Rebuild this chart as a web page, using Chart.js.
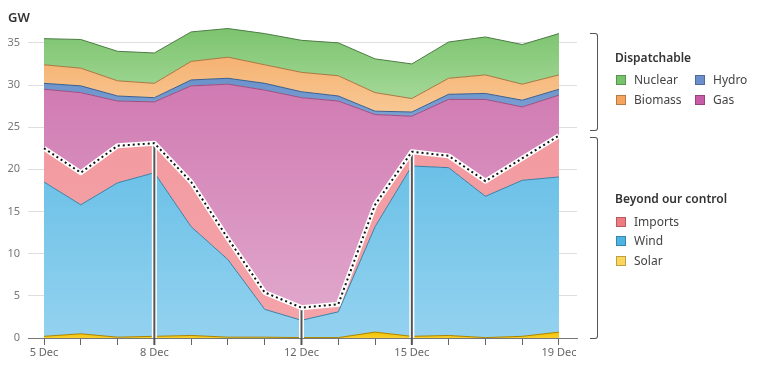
<!DOCTYPE html>
<html>
<head>
<meta charset="utf-8">
<script src="https://cdn.jsdelivr.net/npm/chart.js@4.4.1/dist/chart.umd.min.js"></script>
<style>
  html, body { margin: 0; padding: 0; background: #fff; }
  body { width: 757px; height: 375px; position: relative; overflow: hidden; font-family: "Noto Sans", sans-serif; }
  #chartCanv { position: absolute; left: 0; top: 0; }
  .unit { position: absolute; left: 8px; top: 8px; font-size: 13px; font-weight: 600; color: #333; }
  .bracket { position: absolute; left: 590px; width: 7px; border: 1.3px solid #555; border-left: none; border-radius: 0 3px 3px 0; }
  .grp { position: absolute; left: 615px; font-size: 12px; font-weight: 600; color: #333; line-height: 16px; }
  .item { position: absolute; font-size: 12px; color: #444; line-height: 16px; }
  .item i { display: inline-block; width: 8px; height: 8px; margin-right: 8px; vertical-align: -0.5px; border: 1px solid rgba(0,0,0,0.25); }
</style>
</head>
<body>
<canvas id="chartCanv" width="757" height="375"></canvas>
<div class="unit">GW</div>
<div class="bracket" style="top:33px;height:96px"></div>
<div class="bracket" style="top:137px;height:200px"></div>
<div class="grp" style="top:50px">Dispatchable</div>
<div class="item" style="left:616px;top:72px"><i style="background:#76c46a"></i>Nuclear</div>
<div class="item" style="left:695px;top:72px"><i style="background:#6a8fcb"></i>Hydro</div>
<div class="item" style="left:616px;top:92px"><i style="background:#f4a45c"></i>Biomass</div>
<div class="item" style="left:695px;top:92px"><i style="background:#c95ca7"></i>Gas</div>
<div class="grp" style="top:191px">Beyond our control</div>
<div class="item" style="left:616px;top:214px"><i style="background:#ef7b80"></i>Imports</div>
<div class="item" style="left:616px;top:233px"><i style="background:#4cb3e3"></i>Wind</div>
<div class="item" style="left:616px;top:253px"><i style="background:#fbd65d"></i>Solar</div>
<script>
// daily values, GW
const days = ['5 Dec','6 Dec','7 Dec','8 Dec','9 Dec','10 Dec','11 Dec','12 Dec','13 Dec','14 Dec','15 Dec','16 Dec','17 Dec','18 Dec','19 Dec'];
const shownDays = [0, 3, 7, 10, 14];
const markedDays = [3, 7, 10];

const solar   = [0.2, 0.5, 0.1, 0.2, 0.3, 0.1, 0.1, 0.05, 0.05, 0.7, 0.2, 0.3, 0.05, 0.2, 0.7];
const wind    = [18.3, 15.3, 18.3, 19.4, 12.9, 9.2, 3.3, 2.05, 3.05, 12.5, 20.2, 19.9, 16.75, 18.5, 18.4];
const imports = [4.0, 3.8, 4.4, 3.5, 5.3, 2.5, 2.0, 1.5, 0.9, 2.6, 1.7, 1.4, 1.8, 2.6, 4.9];
const gas     = [7.0, 9.5, 5.3, 4.9, 11.4, 18.3, 24.0, 24.9, 24.1, 10.7, 4.2, 6.7, 9.7, 6.1, 4.8];
const hydro   = [0.7, 0.8, 0.6, 0.5, 0.7, 0.7, 0.8, 0.7, 0.6, 0.4, 0.5, 0.6, 0.7, 0.8, 0.7];
const biomass = [2.2, 2.1, 1.8, 1.7, 2.2, 2.5, 2.2, 2.3, 2.4, 2.2, 1.6, 1.9, 2.2, 1.9, 1.7];
const nuclear = [3.1, 3.4, 3.5, 3.6, 3.5, 3.4, 3.7, 3.8, 3.9, 4.0, 4.1, 4.3, 4.5, 4.7, 4.9];

// bottom to top
const series = [
  {name: 'Solar',   data: solar,   top: '#f2c200', bottom: '#f7cf2a', line: '#a88400'},
  {name: 'Wind',    data: wind,    top: '#6bc0e7', bottom: '#93d2ef', line: '#3f7ea3'},
  {name: 'Imports', data: imports, top: '#f29ba1', bottom: '#f4a3a8', line: '#c56d74'},
  {name: 'Gas',     data: gas,     top: '#d07ab2', bottom: '#e0a6cb', line: '#9a4f80'},
  {name: 'Hydro',   data: hydro,   top: '#6b93cb', bottom: '#7ba0d3', line: '#3d5f8e'},
  {name: 'Biomass', data: biomass, top: '#f5b272', bottom: '#f8c894', line: '#a8773f'},
  {name: 'Nuclear', data: nuclear, top: '#7cc46e', bottom: '#a3d897', line: '#4c7b43'}
];

// gradient from the top of each band to its lowest base
function bandFill(idx) {
  return function(ctx) {
    const chart = ctx.chart;
    const s = series[idx];
    if (!chart.chartArea || !chart.scales.y) return s.top;
    let hi = 0, lo = Infinity;
    for (let d = 0; d < days.length; d++) {
      let base = 0;
      for (let k = 0; k < idx; k++) base += series[k].data[d];
      hi = Math.max(hi, base + s.data[d]);
      lo = Math.min(lo, base);
    }
    const y = chart.scales.y;
    const g = chart.ctx.createLinearGradient(0, y.getPixelForValue(hi), 0, y.getPixelForValue(lo));
    g.addColorStop(0, s.top);
    g.addColorStop(1, s.bottom);
    return g;
  };
}

const markers = {
  id: 'markers',
  afterDraw(chart) {
    const c = chart.ctx;
    const pts = chart.getDatasetMeta(2).data;
    const yBase = chart.chartArea.bottom + 7;
    c.save();
    markedDays.forEach(d => {
      const p = pts[d];
      c.strokeStyle = '#fff';
      c.lineWidth = 5;
      c.beginPath(); c.moveTo(p.x, chart.chartArea.bottom); c.lineTo(p.x, p.y); c.stroke();
      c.strokeStyle = '#555';
      c.lineWidth = 2;
      c.beginPath(); c.moveTo(p.x, yBase); c.lineTo(p.x, p.y); c.stroke();
    });
    c.lineJoin = 'round';
    c.strokeStyle = '#fff';
    c.lineWidth = 5;
    c.beginPath();
    pts.forEach((p, i) => i ? c.lineTo(p.x, p.y) : c.moveTo(p.x, p.y));
    c.stroke();
    c.strokeStyle = '#111';
    c.lineWidth = 2;
    c.setLineDash([2, 3]);
    c.beginPath();
    pts.forEach((p, i) => i ? c.lineTo(p.x, p.y) : c.moveTo(p.x, p.y));
    c.stroke();
    c.restore();
  }
};

const chartCanv = document.getElementById('chartCanv');
const chart = new Chart(chartCanv, {
  type: 'line',
  data: {
    datasets: series.map((s, idx) => ({
      label: s.name,
      data: s.data.map((v, i) => ({x: i, y: v})),
      fill: idx === 0 ? 'origin' : '-1',
      backgroundColor: bandFill(idx),
      borderColor: s.line,
      borderWidth: 1,
      pointRadius: 0,
      tension: 0
    }))
  },
  options: {
    responsive: false,
    animation: false,
    layout: {padding: {top: 26, right: 180, left: 0, bottom: 0}},
    plugins: {legend: {display: false}, tooltip: {enabled: false}},
    scales: {
      x: {
        type: 'linear',
        min: -0.435,
        max: 14.49,
        afterBuildTicks: s => { s.ticks = days.map((d, i) => ({value: i})); },
        afterFit: s => { s.height = 37; },
        border: {display: true, color: '#777', width: 1},
        grid: {drawOnChartArea: false, drawTicks: true, tickLength: 7, color: '#666'},
        ticks: {
          autoSkip: false,
          maxRotation: 0,
          padding: 1,
          color: '#666',
          font: {family: 'Noto Sans', size: 11},
          callback: v => shownDays.includes(v) ? days[v] : ''
        }
      },
      y: {
        stacked: true,
        min: 0,
        max: 37,
        z: 1,
        afterBuildTicks: s => { s.ticks = s.ticks.filter(t => t.value % 5 === 0); },
        afterFit: s => { s.width = 28; },
        border: {display: false},
        grid: {drawTicks: false, color: 'rgba(90,90,90,0.2)'},
        ticks: {stepSize: 5, padding: 8, color: '#777', font: {family: 'Noto Sans', size: 11}}
      }
    }
  },
  plugins: [markers]
});
</script>
</body>
</html>
